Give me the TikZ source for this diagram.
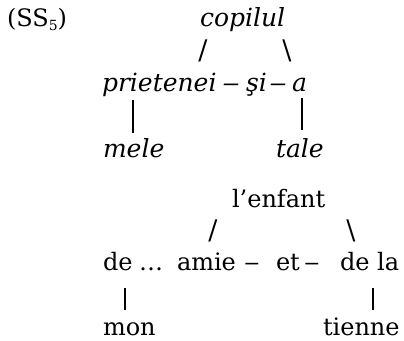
\documentclass[tikz,border=0pt]{standalone}
\usepackage{fontspec}
\usepackage{graphicx}
\setmainfont{DejaVu Serif}
\begin{document}
\begin{tikzpicture}[x=1pt,y=-1pt,
  every node/.style={inner sep=0pt,outer sep=0pt,anchor=base west,font=\fontsize{24}{28}\selectfont},
  it/.style={font=\fontsize{25}{29}\selectfont\itshape},
  dashnode/.style={anchor=base},
  slash/.style={anchor=base,font=\fontsize{27}{30}\selectfont},
  bar/.style={line width=2.2pt,draw=black}]
\useasboundingbox (0,0) rectangle (404,340);
% label
\node (ss) at (7,26) {(SS\raisebox{-0.35ex}{\fontsize{14}{14}\selectfont 5})};
% Romanian tree
\node[it] (copilul) at (200,26) {copilul};
\node[slash] (sl1) at (203,59) {/};
\node[slash] (bs1) at (287,59) {\textbackslash};
\node[it] (prietenei) at (102,91) {prietenei};
\node[it,dashnode] (d1) at (231,91) {\scalebox{1.4}[1]{–}};
\node[it] (si) at (246,91) {şi};
\node[it,dashnode] (d2) at (278,91) {\scalebox{1.4}[1]{–}};
\node[it] (a) at (292,91) {a};
\node[it] (mele) at (103,157) {mele};
\node[it] (tale) at (276,157) {tale};
\coordinate (b1t) at (133,100);
\coordinate (b1b) at (133,133);
\coordinate (b2t) at (302,98);
\coordinate (b2b) at (302,130);
\draw[bar] (b1t) -- (b1b);
\draw[bar] (b2t) -- (b2b);
% French tree
\node (enfant) at (232,207) {l’enfant};
\node[slash] (sl2) at (213,239) {/};
\node[slash] (bs2) at (351,239) {\textbackslash};
\node (de) at (103,270) {de};
\node (dots) at (139,270) {…};
\node (amie) at (177,270) {amie};
\node[dashnode] (d3) at (252,270) {\scalebox{1.3}[1]{–}};
\node (et) at (276,270) {et};
\node[dashnode] (d4) at (312,270) {\scalebox{1.3}[1]{–}};
\node (dela) at (340,270) {de la};
\node (mon) at (103,335) {mon};
\node (tienne) at (323,335) {tienne};
\coordinate (b3t) at (125,288);
\coordinate (b3b) at (125,310);
\coordinate (b4t) at (373,288);
\coordinate (b4b) at (373,310);
\draw[bar] (b3t) -- (b3b);
\draw[bar] (b4t) -- (b4b);
\end{tikzpicture}
\end{document}
